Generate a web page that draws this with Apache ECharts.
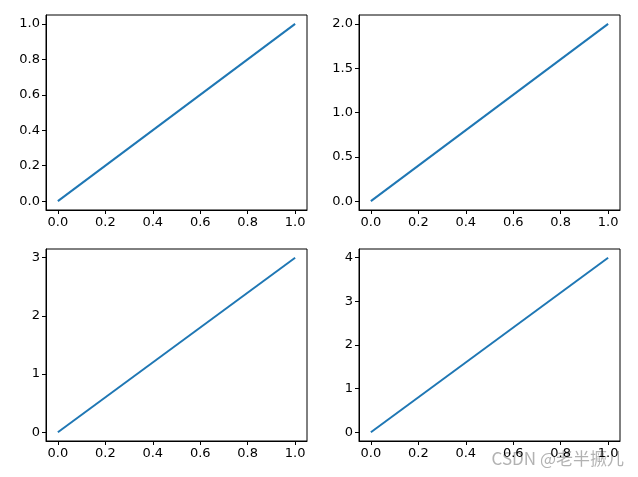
<!DOCTYPE html>
<html><head><meta charset="utf-8">
<script src="https://cdn.jsdelivr.net/npm/echarts@6/dist/echarts.min.js"></script>
<style>html,body{margin:0;padding:0;background:#fff}#c{width:638px;height:477px}</style>
</head><body><div id="c"></div>
<script>
const xData = [0, 1];
const slopes = [1, 2, 3, 4];
const xTicks = [0, 0.2, 0.4, 0.6, 0.8, 1.0];
const yTicks = [
  [0, 0.2, 0.4, 0.6, 0.8, 1.0],
  [0, 0.5, 1.0, 1.5, 2.0],
  [0, 1, 2, 3],
  [0, 1, 2, 3, 4]
];
const yDecimals = [1, 1, 0, 0];

const grids = [
  { left: 46, top: 15, width: 261, height: 195 },
  { left: 359, top: 15, width: 261, height: 195 },
  { left: 46, top: 249, width: 261, height: 192 },
  { left: 359, top: 249, width: 261, height: 192 }
];

const font = { fontFamily: 'DejaVu Sans', fontSize: 13, color: '#000' };
const chart = echarts.init(document.getElementById('c'));
chart.setOption({
  animation: false,
  grid: grids.map(g => Object.assign({ show: true, borderColor: '#000', borderWidth: 1 }, g)),
  xAxis: slopes.map((s, i) => ({
    type: 'value', gridIndex: i, min: -0.05, max: 1.05, position: 'bottom',
    axisLine: { show: true, onZero: false, lineStyle: { color: '#000' } }, splitLine: { show: false },
    axisTick: { show: true, inside: false, length: 4, lineStyle: { color: '#000' }, customValues: xTicks },
    axisLabel: Object.assign({ customValues: xTicks, formatter: v => v.toFixed(1), margin: 6 }, font)
  })),
  yAxis: slopes.map((s, i) => ({
    type: 'value', gridIndex: i, min: -0.05 * s, max: 1.05 * s, position: 'left',
    axisLine: { show: true, onZero: false, lineStyle: { color: '#000' } }, splitLine: { show: false },
    axisTick: { show: true, inside: false, length: 4, lineStyle: { color: '#000' }, customValues: yTicks[i] },
    axisLabel: Object.assign({ customValues: yTicks[i], formatter: v => v.toFixed(yDecimals[i]), margin: 6 }, font)
  })),
  series: slopes.map((s, i) => ({
    type: 'line', xAxisIndex: i, yAxisIndex: i, symbol: 'none',
    lineStyle: { color: '#1f77b4', width: 2 },
    data: xData.map(x => [x, x * s])
  })),
  graphic: [{
    type: 'text', right: 14, bottom: 10,
    style: { text: 'CSDN @老半撅儿', fontSize: 17, fontFamily: 'Noto Sans CJK SC', fill: 'rgba(170,170,170,0.9)' }
  }]
});
</script></body></html>
